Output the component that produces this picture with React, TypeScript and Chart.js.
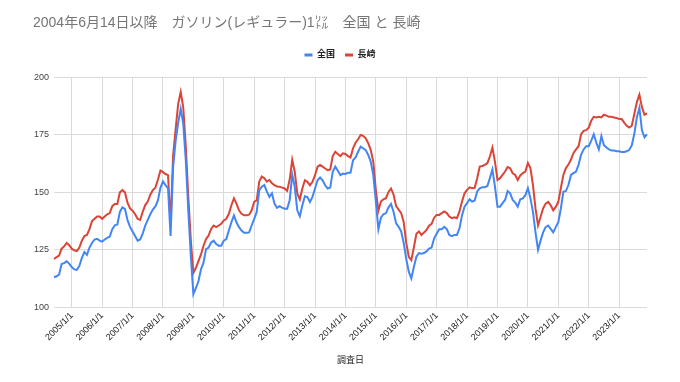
import React, { useEffect, useRef } from 'react';
import { Chart, registerables } from 'chart.js';

Chart.register(...registerables);

const FONT = "Arial, 'Liberation Sans', 'Noto Sans CJK JP', sans-serif";
const TITLE = '2004年6月14日以降　ガソリン(レギュラー)1㍑　全国 と 長崎';
const X_TITLE = '調査日';
const SERIES_NAMES = ['全国', '長崎'];
const Y_MIN = 100;
const Y_MAX = 200;
const Y_STEP = 25;

// monthly survey categories, 2004/6 .. 2023/12
const categories: string[] = [];
for (let y = 2004, m = 6; y < 2024; ) {
  categories.push(`${y}/${m}`);
  m++;
  if (m > 12) { m = 1; y++; }
}

// 全国 (national average, yen per litre)
const zenkoku = [
  113.1, 113.5, 114.2, 118.8, 119.2, 120, 119,
  117.5, 116.5, 116.3, 118, 121.5, 124, 122.8, 126, 128, 129.5, 129.8, 129,
  128.6, 129.5, 130.2, 130.8, 134, 135.7, 136, 141.5, 143.5, 142.8, 138, 135,
  133, 131, 129, 129.5, 132, 135.5, 138, 140.5, 142.5, 143.9, 146.5, 152,
  154.8, 153.2, 151.8, 131, 161, 172.4, 180.4, 186.3, 180, 164, 142, 122,
  105.7, 108.4, 111.3, 116.5, 119.4, 125.3, 126, 128.2, 129, 127.5, 126.8, 126.8,
  129, 129.7, 133.4, 137, 140, 137, 134.9, 133.4, 132.4, 132.4, 132.6, 135.6,
  138.5, 141.5, 151, 152.5, 153.2, 150.3, 148.1, 149.6, 145.1, 143.3, 144, 143.4,
  142.9, 142.9, 146.6, 157.8, 152.4, 142.2, 139.6, 144.4, 148.3, 148, 145.8, 148,
  151.7, 155.3, 156.5, 155.3, 153.1, 151.7, 152.1, 159, 161.2, 159.4, 157.5, 158.2,
  158, 158.5, 158.5, 164, 165.2, 167.7, 169.9, 169.2, 168.4, 166.3, 163.3, 157.5,
  146, 134, 139, 140.5, 141, 143.5, 145, 141.5, 136.5, 135, 133, 128,
  121, 115.5, 112.5, 117.5, 122, 123.6, 123.3, 123.6, 124.3, 125.5, 126, 130,
  132, 134, 134, 135, 134, 131.5, 131, 131.5, 131.5, 134.4, 140, 143.8,
  145.3, 147, 146, 146.5, 150.4, 151.8, 152.2, 152.2, 152.8, 156.2, 160, 152.5,
  143.8, 143.8, 145.3, 146.7, 150.6, 149.6, 146.7, 145.6, 143.8, 147, 147.4, 148.8,
  151.8, 147.4, 141.5, 132.6, 125, 129, 132.6, 134.9, 135.6, 134.1, 132.6, 134.9,
  137, 142.9, 150.3, 150.6, 153.2, 157.6, 158.4, 159.1, 162.1, 166.5, 168.7, 170.1,
  170.1, 172.5, 175.3, 171.6, 168.7, 174.5, 170.5, 169.5, 168.7, 168.2, 168.2, 167.9,
  167.9, 167.6, 167.6, 167.9, 168.5, 170.5, 175.5, 182.6, 186.8, 177, 174, 175.3,
];

// 長崎 (Nagasaki, yen per litre)
const nagasaki = [
  121, 121.8, 122.5, 125.5, 126.5, 128, 127,
  125.5, 124.8, 124.5, 126, 129, 131, 131.5, 134, 137.5, 138.5, 139.5, 139.5,
  138.5, 139.5, 140.5, 141, 144, 145, 145, 150, 151, 150, 145.5, 143,
  142, 140.5, 138.5, 138, 141.5, 144.5, 146, 149, 151, 152, 155.5, 159.5,
  158.8, 158, 157.5, 136, 166, 177.5, 188.5, 193.7, 187, 170, 148, 129,
  115, 117.2, 120.1, 123, 126.8, 129.7, 131.2, 134.1, 135.6, 134.9, 135.6, 136.3,
  137.8, 138.5, 140.7, 144.4, 147.4, 145.1, 142.2, 140.7, 140, 140, 140.3, 142.2,
  145.9, 146.6, 154.7, 156.9, 156.2, 154.7, 155.4, 154, 153.2, 152.6, 152.5, 152.1,
  151.7, 150.7, 155.6, 164.2, 159, 149.5, 146.9, 151.7, 155.3, 154.6, 153.1, 154.6,
  157.5, 161.2, 161.9, 161.2, 160.4, 159.7, 160, 165.8, 167.7, 166.7, 165.8, 167,
  166.7, 165.8, 165.2, 169.2, 171.6, 173.1, 175, 174.6, 173.5, 171.4, 168.4, 163.3,
  151, 142, 146, 147, 147.5, 150.2, 151.7, 149, 144, 142.5, 141, 137,
  128, 122, 120.5, 126, 132, 133, 131.5, 132.5, 133.7, 135.5, 136.3, 139,
  140.2, 140.2, 141, 141.7, 141, 139.5, 138.8, 139.2, 138.8, 141.7, 146, 149.6,
  151.1, 152.2, 151.8, 152, 156.2, 161.2, 161.5, 162, 162.7, 165.6, 169.5, 163.4,
  155.4, 156.2, 157.6, 159.1, 161, 160.5, 158.3, 157.6, 155.4, 157.4, 158.4, 159.1,
  162.8, 160.6, 153.2, 143, 135.6, 139.3, 143, 145.1, 145.9, 144.4, 142.2, 143.7,
  145.9, 151.8, 157.6, 160.6, 162.1, 164.3, 167.2, 168.7, 170.1, 175.3, 176.8, 177.1,
  178.2, 181.2, 182.9, 182.6, 182.9, 182.6, 183.8, 183.4, 182.9, 182.9, 182.6, 182.4,
  181.9, 181.9, 180.4, 179, 178.2, 179, 184.1, 189.3, 192.6, 187.1, 183.8, 184.4,
];

const isJanuary = (i: number) => !!categories[i] && categories[i].endsWith('/1');

export default function App() {
  const ref = useRef<HTMLCanvasElement | null>(null);

  useEffect(() => {
    if (!ref.current) return;
    const chart = new Chart(ref.current, {
      type: 'line',
      data: {
        labels: categories,
        datasets: [
          {
            label: SERIES_NAMES[0],
            data: zenkoku,
            borderColor: '#4285f4',
            backgroundColor: '#4285f4',
            borderWidth: 2,
            pointRadius: 0,
            tension: 0,
          },
          {
            label: SERIES_NAMES[1],
            data: nagasaki,
            borderColor: '#db4437',
            backgroundColor: '#db4437',
            borderWidth: 2,
            pointRadius: 0,
            tension: 0,
          },
        ],
      },
      options: {
        responsive: false,
        animation: false,
        layout: { padding: { left: 33, right: 33, top: 0, bottom: 16 } },
        plugins: {
          title: {
            display: true,
            text: TITLE,
            align: 'start',
            color: '#757575',
            font: { family: FONT, size: 14, weight: 'normal' },
            padding: { top: 14.6, bottom: 9.1 },
          },
          subtitle: {
            // spacer between legend and plot area
            display: true,
            text: '',
            weight: 500,
            padding: 0,
            font: { size: 8, lineHeight: 1 },
          },
          legend: {
            display: true,
            labels: {
              boxWidth: 8,
              boxHeight: 3,
              padding: 10,
              color: '#222',
              font: { family: FONT, size: 9, weight: 'bold' },
              generateLabels: (c: any) =>
                Chart.defaults.plugins.legend.labels
                  .generateLabels(c)
                  .map((l: any) => ({ ...l, lineWidth: 0 })),
            },
          },
          tooltip: { enabled: false },
        },
        scales: {
          x: {
            type: 'category',
            grid: { color: '#dadada', drawTicks: false },
            border: { display: false },
            ticks: {
              autoSkip: false,
              minRotation: 45,
              maxRotation: 45,
              padding: 3,
              color: '#222',
              font: { family: FONT, size: 9 },
              callback: (_v: any, i: number) => (isJanuary(i) ? `${categories[i]}/1` : null),
            },
            title: {
              display: true,
              text: X_TITLE,
              color: '#222',
              font: { family: FONT, size: 9 },
              padding: { top: 9.5, bottom: 0 },
            },
          },
          y: {
            min: Y_MIN,
            max: Y_MAX,
            grid: { color: '#dadada', drawTicks: false },
            border: { display: false },
            ticks: {
              stepSize: Y_STEP,
              padding: 5,
              color: '#444',
              font: { family: FONT, size: 9 },
            },
            afterFit: (s: any) => {
              s.width = 21;
            },
          },
        },
      },
    } as any);
    return () => chart.destroy();
  }, []);

  return (
    <div style={{ position: 'absolute', left: 0, top: 0, width: 680, height: 382, background: '#fff' }}>
      <canvas ref={ref} width={680} height={382} style={{ width: 680, height: 382, display: 'block' }} />
    </div>
  );
}
